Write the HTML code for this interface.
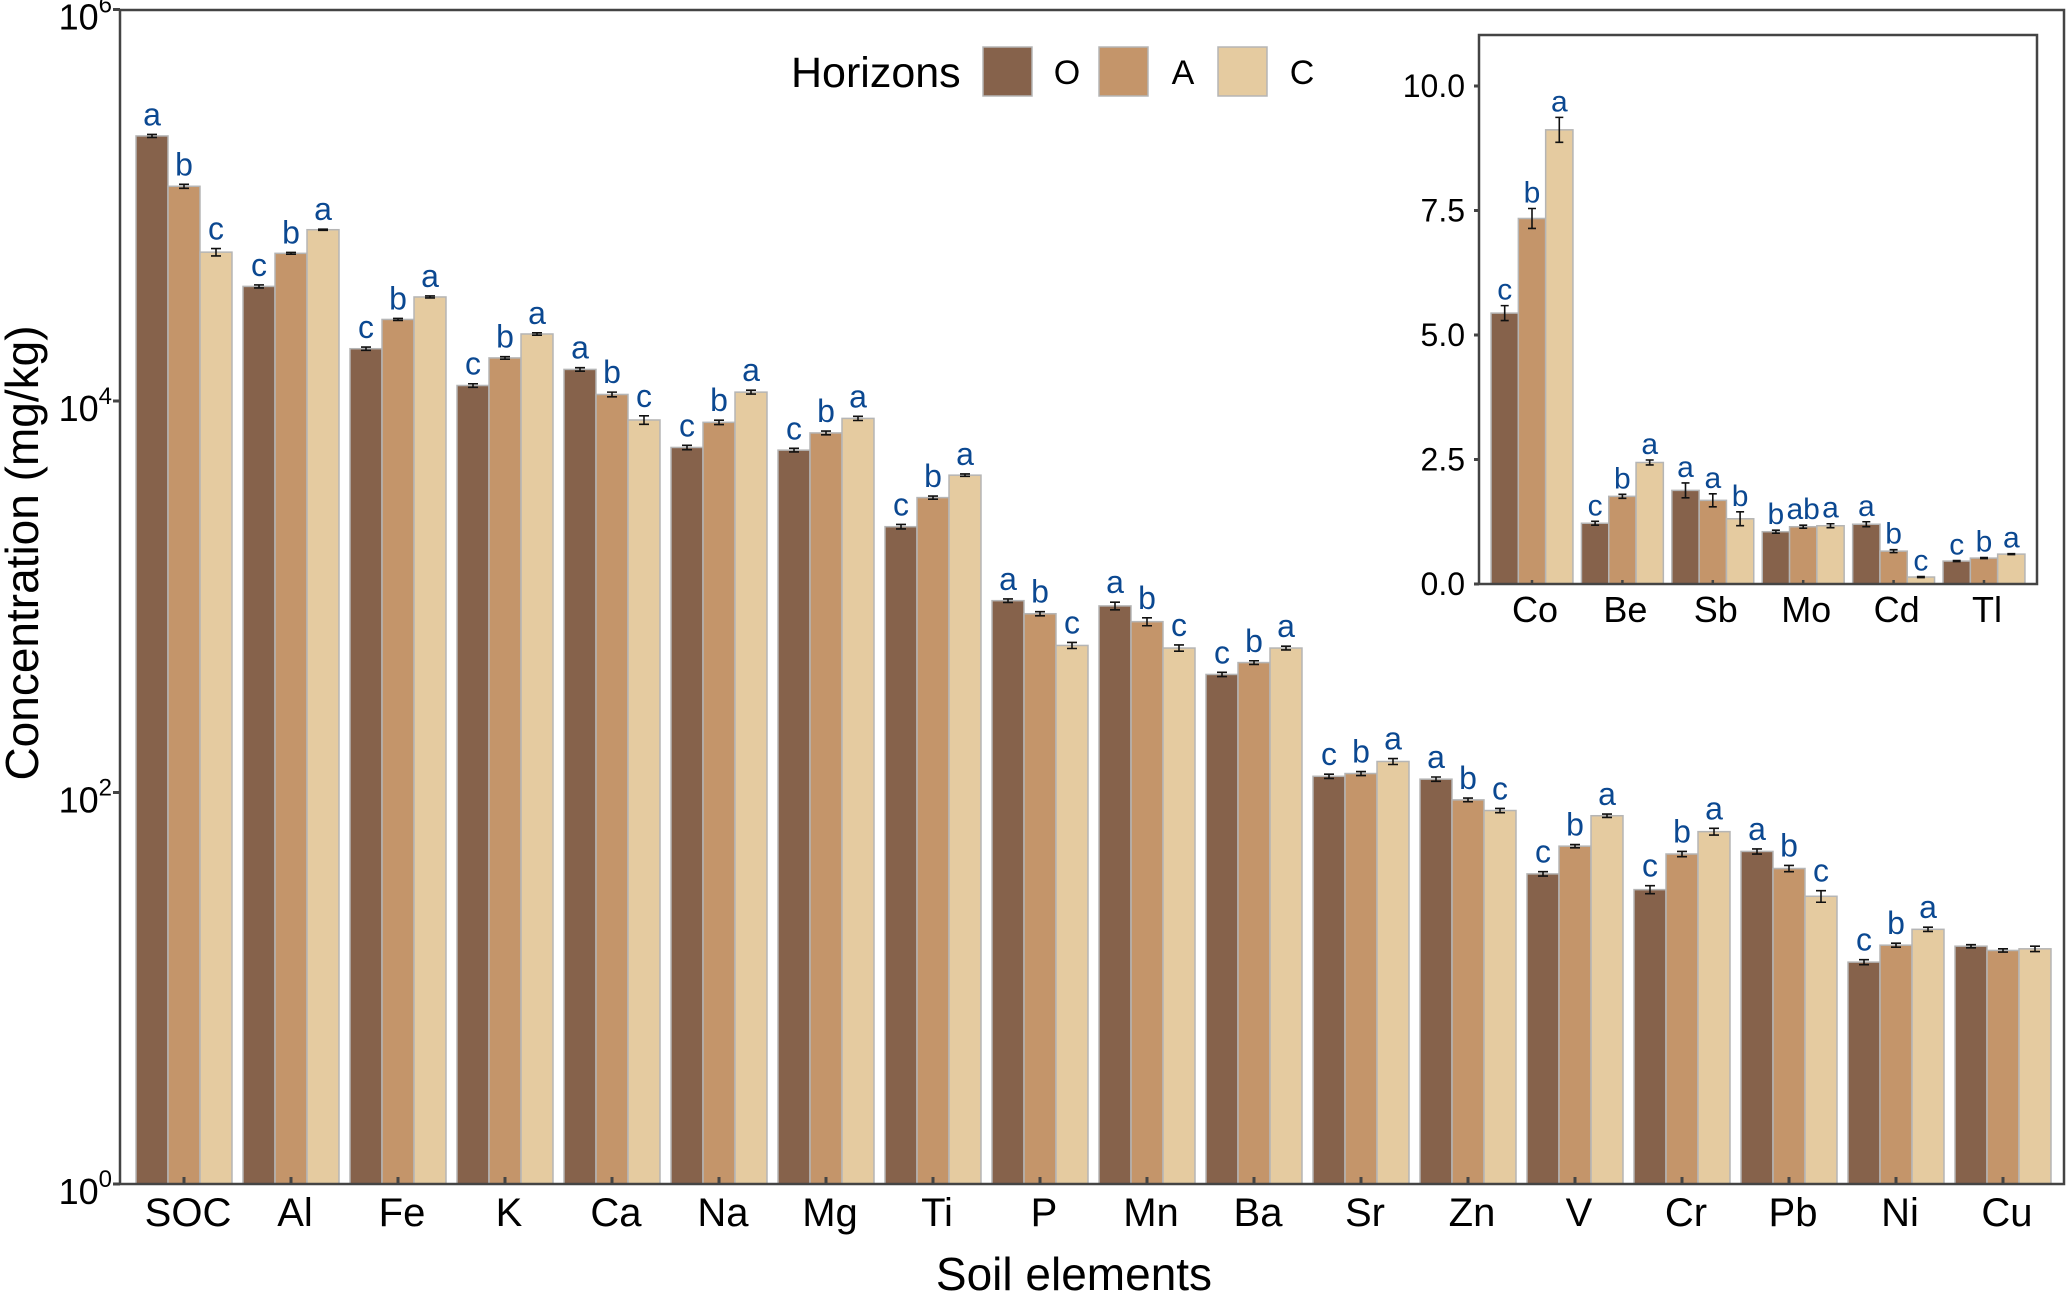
<!DOCTYPE html>
<html><head><meta charset="utf-8">
<style>
html,body{margin:0;padding:0;background:#fff;}
svg{display:block;font-family:"Liberation Sans",Arial,sans-serif;}
</style></head>
<body>
<svg id="chart" width="2067" height="1295" viewBox="0 0 2067 1295" xmlns="http://www.w3.org/2000/svg"></svg>
<script>
// ---- main chart data ----
const categories = ["SOC","Al","Fe","K","Ca","Na","Mg","Ti","P","Mn","Ba","Sr","Zn","V","Cr","Pb","Ni","Cu"];
const valuesO = [226000,38500,18500,12000,14500,5790,5610,2280,955,898,401,121,117,38.4,31.9,50,13.6,16.4];
const valuesA = [125000,56800,26100,16600,10800,7780,6870,3210,819,746,461,125,91.7,53.2,48.5,40.9,16.6,15.6];
const valuesC = [57600,75000,34000,22000,8000,11100,8150,4180,564,547,547,144,80.9,76.1,63.1,29.5,20,15.9];
const errO = [4000,700,350,250,300,150,120,60,20,40,10,3,3,1,1.5,1.5,0.4,0.3];
const errA = [3000,600,300,250,300,200,150,60,20,35,10,3,2,1,1.5,1.5,0.4,0.3];
const errC = [2500,500,400,300,400,250,200,60,20,20,12,5,2,1.5,2.5,2,0.5,0.5];
const lettersO = ["a","c","c","c","a","c","c","c","a","a","c","c","a","c","c","a","c",""];
const lettersA = ["b","b","b","b","b","b","b","b","b","b","b","b","b","b","b","b","b",""];
const lettersC = ["c","a","a","a","c","a","a","a","c","c","a","a","c","a","a","c","a",""];
const yTickExps = [0,2,4,6];
// ---- inset data ----
const insetCategories = ["Co","Be","Sb","Mo","Cd","Tl"];
const insetO = [5.44,1.22,1.88,1.05,1.2,0.46];
const insetA = [7.34,1.76,1.68,1.15,0.66,0.52];
const insetC = [9.12,2.44,1.31,1.17,0.14,0.60];
const insetErrO = [0.15,0.04,0.15,0.03,0.05,0.01];
const insetErrA = [0.2,0.04,0.13,0.03,0.03,0.01];
const insetErrC = [0.25,0.05,0.14,0.04,0.01,0.01];
const insetLettersO = ["c","c","a","b","a","c"];
const insetLettersA = ["b","b","a","ab","b","b"];
const insetLettersC = ["a","a","b","a","c","a"];
const insetTicks = [0,2.5,5,7.5,10];

const NS="http://www.w3.org/2000/svg";
const svg=document.getElementById('chart');
const colors=["#86624b","#c4956a","#e5cba0"];
const letterColor="#0b4891";
function mk(tag,attrs,parent,text){
  const e=document.createElementNS(NS,tag);
  for(const k in attrs)e.setAttribute(k,attrs[k]);
  if(text!==undefined)e.textContent=text;
  (parent||svg).appendChild(e);return e;
}
const L=120,R=2064,T=10,B=1184,DEC=195.75;
function yMain(v){return B-Math.log10(v)*DEC;}
function xMain(i){return 184+i*107;}
const BW=32;

const gMain=mk('g',{});


const series=[[valuesO,errO,lettersO],[valuesA,errA,lettersA],[valuesC,errC,lettersC]];
const sNames=['o','a','c'];
categories.forEach((cat,i)=>{
  series.forEach((s,j)=>{
    const v=s[0][i],er=s[1][i];
    const x=xMain(i)+(j-1)*BW-BW/2;
    const y=yMain(v);
    const r=mk('rect',{x:x,y:y,width:BW,height:B-y,fill:colors[j],stroke:"#b5b5b5","stroke-width":1.5},gMain);
    
    
    const yt=yMain(v+er),yb=yMain(Math.max(v-er,1e-9));
    const cx=x+BW/2;
    const eb=mk('path',{d:`M${cx-5},${yt}H${cx+5}M${cx},${yt}V${yb}M${cx-5},${yb}H${cx+5}`,stroke:"#111","stroke-width":1.6,fill:"none"},gMain);
    
    
    if(s[2][i]){
      const t=mk('text',{x:cx,y:yt-9,"text-anchor":"middle","font-size":32,fill:letterColor},gMain,s[2][i]);
      
      
    }
  });
  const tk=mk('line',{x1:xMain(i),x2:xMain(i),y1:B,y2:B-7,stroke:"#444","stroke-width":3},gMain);
  
  
  const lab=mk('text',{x:xMain(i)+4,y:1226,"text-anchor":"middle","font-size":40,fill:"#000"},gMain,cat);
  
  
});
const fr=mk('rect',{x:L,y:T,width:R-L,height:B-T,fill:"none",stroke:"#444","stroke-width":2.5});


yTickExps.forEach(e=>{
  const y=yMain(Math.pow(10,e));
  const tk=mk('line',{x1:L-7,x2:L,y1:y,y2:y,stroke:"#444","stroke-width":3});
  
  
  const t=mk('text',{x:112,y:y+20,"text-anchor":"end","font-size":36,fill:"#000"});
  
  
  mk('tspan',{},t,'10');
  mk('tspan',{dy:-17,"font-size":24},t,String(e));
});
const yt=mk('text',{x:0,y:0,transform:"translate(38,553) rotate(-90)","text-anchor":"middle","font-size":46,fill:"#000"},svg,"Concentration (mg/kg)");


const xt=mk('text',{x:1074,y:1290,"text-anchor":"middle","font-size":46,fill:"#000"},svg,"Soil elements");


const lg=mk('g',{});


const lt=mk('text',{x:791,y:87,"font-size":43,fill:"#000"},lg,"Horizons");


const legX=[983,1099,1218],legL=["O","A","C"];
legX.forEach((x,j)=>{
  const r=mk('rect',{x:x,y:47,width:49,height:49,fill:colors[j],stroke:"#b5b5b5","stroke-width":1.5},lg);
  
  
  const t=mk('text',{x:x+84,y:84,"text-anchor":"middle","font-size":34,fill:"#000"},lg,legL[j]);
  
  
});
const IL=1479,IR=2037,IT=35,IB=584,IU=49.8;
function yIn(v){return IB-v*IU;}
function xIn(i){return 1532+i*90.4;}
const IBW=27.3;
const gIn=mk('g',{});


mk('rect',{x:IL,y:IT,width:IR-IL,height:IB-IT,fill:"#fff"},gIn);
const iser=[[insetO,insetErrO,insetLettersO],[insetA,insetErrA,insetLettersA],[insetC,insetErrC,insetLettersC]];
insetCategories.forEach((cat,i)=>{
  iser.forEach((s,j)=>{
    const v=s[0][i],er=s[1][i];
    const x=xIn(i)+(j-1)*IBW-IBW/2;
    const y=yIn(v);
    const r=mk('rect',{x:x,y:y,width:IBW,height:IB-y,fill:colors[j],stroke:"#b5b5b5","stroke-width":1.5},gIn);
    
    
    const yt=yIn(v+er),yb=yIn(v-er),cx=x+IBW/2;
    const eb=mk('path',{d:`M${cx-4},${yt}H${cx+4}M${cx},${yt}V${yb}M${cx-4},${yb}H${cx+4}`,stroke:"#111","stroke-width":1.6,fill:"none"},gIn);
    
    
    const t=mk('text',{x:cx,y:yt-6,"text-anchor":"middle","font-size":30,fill:letterColor},gIn,s[2][i]);
    
    
  });
  const tk=mk('line',{x1:xIn(i),x2:xIn(i),y1:IB,y2:IB-4,stroke:"#444","stroke-width":2.5},gIn);
  
  
  const lab=mk('text',{x:xIn(i)+3,y:622,"text-anchor":"middle","font-size":36,fill:"#000"},gIn,cat);
  
  
});
const ifr=mk('rect',{x:IL,y:IT,width:IR-IL,height:IB-IT,fill:"none",stroke:"#444","stroke-width":2.5},gIn);


insetTicks.forEach(v=>{
  const y=yIn(v);
  const tk=mk('line',{x1:IL-5,x2:IL,y1:y,y2:y,stroke:"#444","stroke-width":3},gIn);
  
  
  const t=mk('text',{x:1465,y:y+11,"text-anchor":"end","font-size":32,fill:"#000"},gIn,v.toFixed(1));
  
  
});
</script>
</body></html>
